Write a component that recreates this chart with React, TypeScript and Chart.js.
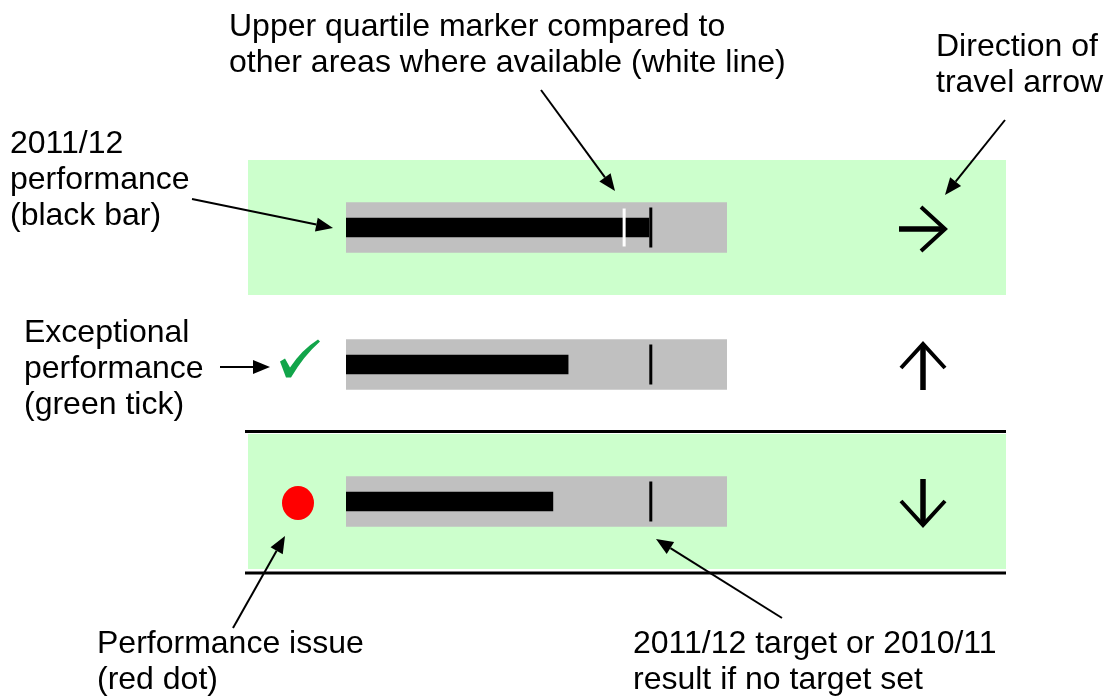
import React, { useEffect, useRef } from "react";
import { Chart, registerables } from "chart.js";

Chart.register(...registerables);

// ---- data ----
const rows = ["Indicator 1", "Indicator 2", "Indicator 3"];
const performance = [79.5, 58.3, 54.3]; // 2011/12 performance (black bar)
const targets = [80, 80, 80]; // 2011/12 target or 2010/11 result (black line)
const upperQuartile: (number | null)[] = [73, null, null]; // white line
const scaleMax = [100, 100, 100]; // grey background bar
const shaded = [true, false, true]; // green row background
const ruled = [false, false, true]; // black rule above and below row
const statusIcon = ["none", "tick", "dot"];
const travel = ["right", "up", "down"];

const noteText: string[][] = [
  ["Upper quartile marker compared to", "other areas where available (white line)"],
  ["Direction of", "travel arrow"],
  ["2011/12", "performance", "(black bar)"],
  ["Exceptional", "performance", "(green tick)"],
  ["Performance issue", "(red dot)"],
  ["2011/12 target or 2010/11", "result if no target set"],
];

// layout of the annotation callouts (positions only)
const noteLayout = [
  { x: 229, y: 36, from: [541, 90], to: [615, 191] },
  { x: 936, y: 56, from: [1005, 120], to: [945, 195] },
  { x: 10, y: 153, from: [192, 199], to: [333, 228] },
  { x: 24, y: 342, from: [220, 367], to: [270, 367] },
  { x: 97, y: 653, from: [233, 628], to: [285, 536] },
  { x: 633, y: 653, from: [782, 618], to: [656, 539] },
];

const FONT = "32px 'Liberation Sans', Arial, Helvetica, sans-serif";

function pointer(ctx: CanvasRenderingContext2D, x1: number, y1: number, x2: number, y2: number) {
  const ang = Math.atan2(y2 - y1, x2 - x1);
  const head = 17;
  const half = 7;
  const bx = x2 - head * Math.cos(ang);
  const by = y2 - head * Math.sin(ang);
  ctx.save();
  ctx.strokeStyle = "#000";
  ctx.fillStyle = "#000";
  ctx.lineWidth = 2;
  ctx.beginPath();
  ctx.moveTo(x1, y1);
  ctx.lineTo(bx, by);
  ctx.stroke();
  ctx.beginPath();
  ctx.moveTo(x2, y2);
  ctx.lineTo(bx + half * Math.sin(ang), by - half * Math.cos(ang));
  ctx.lineTo(bx - half * Math.sin(ang), by + half * Math.cos(ang));
  ctx.closePath();
  ctx.fill();
  ctx.restore();
}

function travelArrow(ctx: CanvasRenderingContext2D, cx: number, cy: number, dir: string) {
  const angle = dir === "up" ? -Math.PI / 2 : dir === "down" ? Math.PI / 2 : 0;
  ctx.save();
  ctx.translate(cx, cy);
  ctx.rotate(angle);
  ctx.strokeStyle = "#000";
  ctx.lineCap = "butt";
  ctx.lineJoin = "miter";
  ctx.lineWidth = 5.5;
  ctx.beginPath();
  ctx.moveTo(-24, 0);
  ctx.lineTo(21, 0);
  ctx.stroke();
  ctx.lineWidth = 4;
  ctx.beginPath();
  ctx.moveTo(-2, -22);
  ctx.lineTo(22, 0);
  ctx.lineTo(-2, 22);
  ctx.stroke();
  ctx.restore();
}

function greenTick(ctx: CanvasRenderingContext2D, x: number, y: number) {
  // x,y = top-left reference
  ctx.save();
  ctx.fillStyle = "#12a54a";
  ctx.beginPath();
  ctx.moveTo(x + 0, y + 22);
  ctx.lineTo(x + 5, y + 19);
  ctx.lineTo(x + 10, y + 28);
  ctx.quadraticCurveTo(x + 22, y + 10, x + 38, y + 0);
  ctx.lineTo(x + 40, y + 2);
  ctx.quadraticCurveTo(x + 24, y + 16, x + 11, y + 38);
  ctx.lineTo(x + 6, y + 38);
  ctx.closePath();
  ctx.fill();
  ctx.restore();
}

const scorecardPlugin = {
  id: "scorecard",
  beforeDatasetsDraw(chart: any) {
    const { ctx, chartArea, scales } = chart;
    const ys = scales.y;
    const step = chartArea.height / rows.length;
    ctx.save();
    rows.forEach((_, i) => {
      const yc = ys.getPixelForValue(i);
      if (shaded[i]) {
        ctx.fillStyle = "#ccffcc";
        ctx.fillRect(248, yc - step / 2 + 1, 1006 - 248, step - 2);
      }
      if (ruled[i]) {
        ctx.strokeStyle = "#000";
        ctx.lineWidth = 3;
        ctx.beginPath();
        ctx.moveTo(245, yc - step / 2 - 1.5);
        ctx.lineTo(1006, yc - step / 2 - 1.5);
        ctx.moveTo(245, yc + step / 2 + 3);
        ctx.lineTo(1006, yc + step / 2 + 3);
        ctx.stroke();
      }
    });
    ctx.restore();
  },
  afterDatasetsDraw(chart: any) {
    const { ctx, scales } = chart;
    const xs = scales.x;
    const ys = scales.y;
    ctx.save();
    rows.forEach((_, i) => {
      const yc = ys.getPixelForValue(i);
      const q = upperQuartile[i];
      if (q !== null && q !== undefined) {
        const xq = xs.getPixelForValue(q);
        ctx.strokeStyle = "#ffffff";
        ctx.lineWidth = 3;
        ctx.beginPath();
        ctx.moveTo(xq, yc - 19);
        ctx.lineTo(xq, yc + 19);
        ctx.stroke();
      }
      const xt = xs.getPixelForValue(targets[i]);
      ctx.strokeStyle = "#000000";
      ctx.lineWidth = 3;
      ctx.beginPath();
      ctx.moveTo(xt, yc - 20);
      ctx.lineTo(xt, yc + 20);
      ctx.stroke();

      if (statusIcon[i] === "tick") greenTick(ctx, 280, yc - 25);
      if (statusIcon[i] === "dot") {
        ctx.fillStyle = "#ff0000";
        ctx.beginPath();
        ctx.ellipse(298, yc + 1.5, 16, 17, 0, 0, Math.PI * 2);
        ctx.fill();
      }
      travelArrow(ctx, 923, yc + 1.5, travel[i]);
    });
    ctx.restore();
  },
  afterDraw(chart: any) {
    const { ctx } = chart;
    ctx.save();
    ctx.font = FONT;
    ctx.fillStyle = "#000";
    ctx.textBaseline = "alphabetic";
    ctx.textAlign = "left";
    noteText.forEach((lines, i) => {
      const l = noteLayout[i];
      lines.forEach((t, k) => ctx.fillText(t, l.x, l.y + k * 36));
      pointer(ctx, l.from[0], l.from[1], l.to[0], l.to[1]);
    });
    ctx.restore();
  },
};

export default function App() {
  const ref = useRef<HTMLCanvasElement>(null);
  useEffect(() => {
    document.body.style.margin = "0";
    const el = ref.current;
    if (!el) return;
    const chart = new Chart(el, {
      type: "bar",
      data: {
        labels: rows,
        datasets: [
          {
            label: "2011/12 performance",
            data: performance,
            backgroundColor: "#000000",
            barThickness: 19,
            order: 1,
            grouped: false,
          } as any,
          {
            label: "Scale",
            data: scaleMax,
            backgroundColor: "#c0c0c0",
            barThickness: 50,
            order: 2,
            grouped: false,
          } as any,
        ],
      },
      options: {
        indexAxis: "y",
        responsive: false,
        animation: false,
        devicePixelRatio: 1,
        events: [],
        layout: { padding: { left: 346, right: 377, top: 159, bottom: 126 } },
        scales: {
          x: { type: "linear", min: 0, max: 100, display: false },
          y: { type: "category", display: false },
        },
        plugins: { legend: { display: false }, tooltip: { enabled: false } },
      },
      plugins: [scorecardPlugin],
    });
    return () => chart.destroy();
  }, []);
  return (
    <div style={{ position: "absolute", left: 0, top: 0, width: 1104, height: 696, background: "#fff" }}>
      <canvas ref={ref} width={1104} height={696} style={{ display: "block" }} />
    </div>
  );
}
